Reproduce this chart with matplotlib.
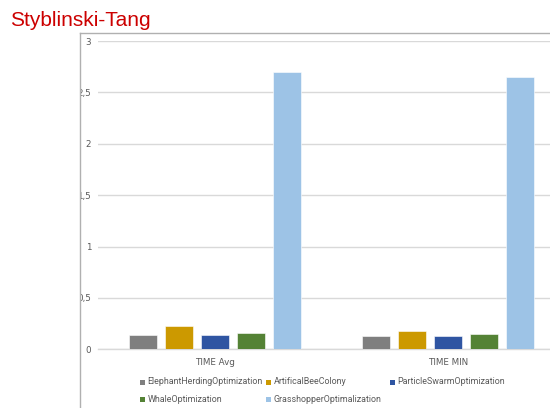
import numpy as np
import matplotlib.pyplot as plt
from matplotlib.patches import Rectangle
from matplotlib.lines import Line2D

categories = ['TIME Avg', 'TIME MIN']
algorithms = ['ElephantHerdingOptimization', 'ArtificalBeeColony', 'ParticleSwarmOptimization',
              'WhaleOptimization', 'GrasshopperOptimalization']
values = {
    'ElephantHerdingOptimization': [0.136, 0.126],
    'ArtificalBeeColony': [0.223, 0.175],
    'ParticleSwarmOptimization': [0.142, 0.126],
    'WhaleOptimization': [0.160, 0.153],
    'GrasshopperOptimalization': [2.70, 2.65],
}
colors = ['#7f7f7f', '#cc9900', '#2f55a2', '#548235', '#9dc3e6']
yticks = [0, 0.5, 1, 1.5, 2, 2.5, 3]
ytick_labels = ['0', '0,5', '1', '1,5', '2', '2,5', '3']

W, H = 550, 408
fig = plt.figure(figsize=(W / 100, H / 100), dpi=100)
fig.patch.set_facecolor('white')

# plot area runs past the right edge of the picture (cropped slide)
left, right, top, bottom = 98, 565, 41, 349.3
ax = fig.add_axes([left / W, 1 - bottom / H, (right - left) / W, (bottom - top) / H])

x = np.arange(len(categories))
step = 0.1545
width = 0.12
for i, (name, c) in enumerate(zip(algorithms, colors)):
    offs = (i - 2) * step
    ax.bar(x + offs, values[name], width, color=c, edgecolor='white', linewidth=0.4, zorder=3)

ax.set_xlim(-0.5, 1.5)
ax.set_ylim(0, 3)
ax.set_yticks(yticks)
ax.set_yticklabels(ytick_labels)
ax.set_xticks(x)
ax.set_xticklabels(categories)
ax.tick_params(axis='both', length=0, labelsize=6.3, colors='#595959')
ax.tick_params(axis='y', pad=5)
ax.tick_params(axis='x', pad=6)
ax.yaxis.grid(True, color='#d9d9d9', linewidth=1)
ax.set_axisbelow(True)
for s in ['top', 'right', 'left']:
    ax.spines[s].set_visible(False)
ax.spines['bottom'].set_color('#d9d9d9')
ax.spines['bottom'].set_linewidth(1)
ax.set_facecolor('none')

# white area left of the chart frame hides part of the tick labels
fig.patches.append(Rectangle((0, 0), 79.5 / W, 1 - 32.5 / H, transform=fig.transFigure,
                             facecolor='white', edgecolor='none', zorder=5))
fig.lines.append(Line2D([79.5 / W, 79.5 / W], [0, 1 - 32.5 / H], transform=fig.transFigure,
                        color='#b0b0b0', linewidth=1, zorder=6))
fig.lines.append(Line2D([79.5 / W, 1], [1 - 32.5 / H, 1 - 32.5 / H], transform=fig.transFigure,
                        color='#b0b0b0', linewidth=1, zorder=6))

# legend, laid out like the original (3 equal columns)
leg_pos = [(140, 382), (266, 382), (390, 382), (140, 399), (266, 399)]
for (px, py), name, c in zip(leg_pos, algorithms, colors):
    fig.patches.append(Rectangle((px / W, 1 - (py + 2.5) / H), 5 / W, 5 / H,
                                 transform=fig.transFigure, facecolor=c, edgecolor='none'))
    fig.text((px + 7.5) / W, 1 - py / H, name, fontsize=6.4, color='#595959',
             family='Roboto', va='center', ha='left')

fig.text(10 / W, 1 - 21 / H, 'Styblinski-Tang', fontsize=15, color='#cc0000',
         family='Liberation Sans', va='center', ha='left')

fig.savefig('out.png', dpi=100)
